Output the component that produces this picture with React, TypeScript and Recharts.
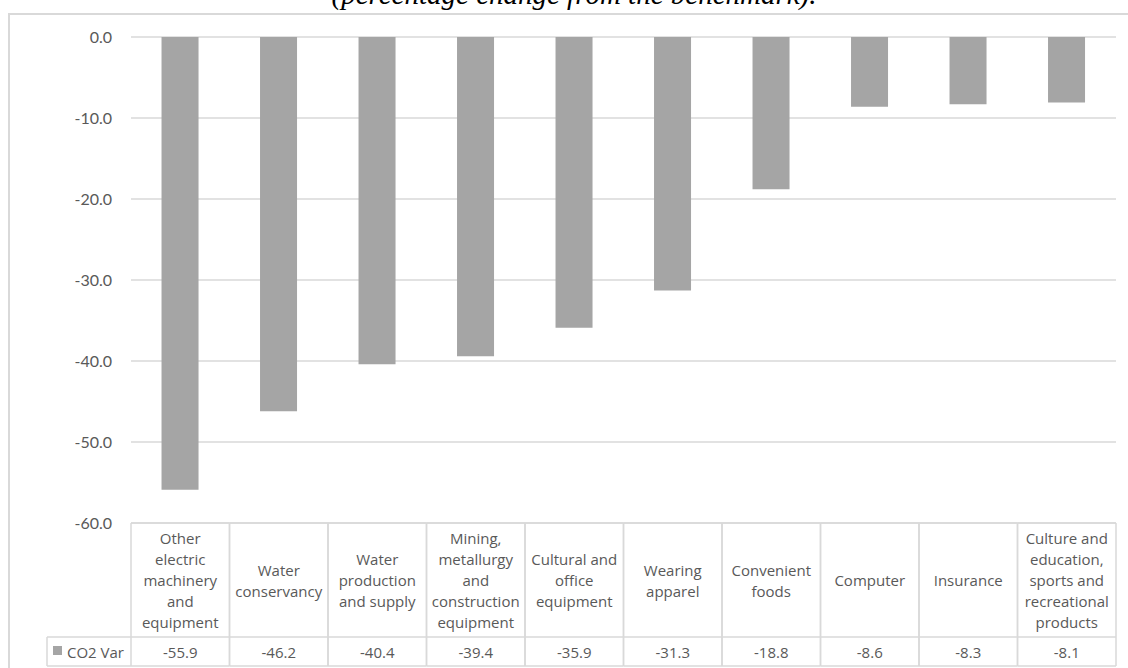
import React from 'react';
import { BarChart, Bar, XAxis, YAxis, CartesianGrid } from 'recharts';

// 各部門 CO2 變化（相對基準的百分比）
const categoryLines: string[][] = [
  ['Other', 'electric', 'machinery', 'and', 'equipment'],
  ['Water', 'conservancy'],
  ['Water', 'production', 'and supply'],
  ['Mining,', 'metallurgy', 'and', 'construction', 'equipment'],
  ['Cultural and', 'office', 'equipment'],
  ['Wearing', 'apparel'],
  ['Convenient', 'foods'],
  ['Computer'],
  ['Insurance'],
  ['Culture and', 'education,', 'sports and', 'recreational', 'products'],
];
const co2Var = [-55.9, -46.2, -40.4, -39.4, -35.9, -31.3, -18.8, -8.6, -8.3, -8.1];
const yTicks = [0, -10, -20, -30, -40, -50, -60];
const seriesName = 'CO2 Var';

const data = co2Var.map((v, i) => ({ name: categoryLines[i].join(' '), value: v, idx: i }));

const WIDTH = 1128;
const HEIGHT = 668;
const MARGIN = { top: 37, right: 12, bottom: 0, left: 71 };
const Y_AXIS_W = 60;
const TABLE_H = 145;
const HEADER_H = 114;
const PLOT_W = WIDTH - MARGIN.left - Y_AXIS_W - MARGIN.right;
const BAND = PLOT_W / data.length;

const gridColor = '#d9d9d9';
const textColor = '#595959';
const barColor = '#a5a5a5';
const tableFont = '"Open Sans", "Noto Sans", sans-serif';

// 資料表欄位（X 軸刻度）
const TableColumn = (props: any) => {
  const { x, y, index } = props;
  const lines = categoryLines[index];
  const left = x - BAND / 2;
  const right = x + BAND / 2;
  const lineH = 21;
  const midY = y + 57;
  const firstY = midY - ((lines.length - 1) * lineH) / 2;
  const bottom = y + TABLE_H - 2;
  return (
    <g>
      <line x1={left} y1={y} x2={right} y2={y} stroke={gridColor} strokeWidth={1.5} />
      <line x1={left} y1={y + HEADER_H} x2={right} y2={y + HEADER_H} stroke={gridColor} strokeWidth={1.5} />
      <line x1={left} y1={bottom} x2={right} y2={bottom} stroke={gridColor} strokeWidth={1.5} />
      <line x1={left} y1={y} x2={left} y2={bottom} stroke={gridColor} strokeWidth={1.5} />
      <line x1={right} y1={y} x2={right} y2={bottom} stroke={gridColor} strokeWidth={1.5} />
      {lines.map((t, i) => (
        <text
          key={i}
          x={x}
          y={firstY + i * lineH}
          textAnchor="middle"
          dominantBaseline="central"
          fill={textColor}
          fontSize={15}
          fontFamily={tableFont}
        >
          {t}
        </text>
      ))}
      <text
        x={x}
        y={y + HEADER_H + 14.5}
        textAnchor="middle"
        dominantBaseline="central"
        fill={textColor}
        fontSize={15}
        fontFamily={tableFont}
      >
        {co2Var[index].toFixed(1)}
      </text>
      {index === 0 && (
        <g>
          <line x1={left - 84} y1={y + HEADER_H} x2={left} y2={y + HEADER_H} stroke={gridColor} strokeWidth={1.5} />
          <line x1={left - 84} y1={bottom} x2={left} y2={bottom} stroke={gridColor} strokeWidth={1.5} />
          <line x1={left - 84} y1={y + HEADER_H} x2={left - 84} y2={bottom} stroke={gridColor} strokeWidth={1.5} />
          <rect x={left - 78} y={y + HEADER_H + 9} width={9} height={9} fill={barColor} />
          <text
            x={left - 64}
            y={y + HEADER_H + 14.5}
            dominantBaseline="central"
            fill={textColor}
            fontSize={15}
            fontFamily={tableFont}
          >
            {seriesName}
          </text>
        </g>
      )}
    </g>
  );
};

export default function App() {
  return (
    <div style={{ position: 'absolute', left: 0, top: 0, width: WIDTH, height: HEIGHT, overflow: 'hidden', background: '#fff' }}>
      {/* 外框 */}
      <div
        style={{
          position: 'absolute',
          left: 8,
          top: 13,
          width: WIDTH,
          height: HEIGHT,
          border: `2px solid ${gridColor}`,
          boxSizing: 'border-box',
        }}
      />
      {/* 標題（上半部被裁切） */}
      <div
        style={{
          position: 'absolute',
          left: 0,
          width: 1148,
          top: -26,
          textAlign: 'center',
          fontFamily: '"Liberation Serif", "DejaVu Serif", serif',
          fontStyle: 'italic',
          fontSize: 29,
          lineHeight: '40px',
          color: '#000',
          whiteSpace: 'nowrap',
        }}
      >
        (percentage change from the benchmark).
      </div>
      <div style={{ position: 'absolute', left: 0, top: 0 }}>
        <BarChart width={WIDTH} height={HEIGHT} data={data} margin={MARGIN} barCategoryGap="31%">
          <CartesianGrid vertical={false} stroke={gridColor} strokeWidth={1.5} />
          <XAxis
            dataKey="name"
            height={TABLE_H}
            axisLine={false}
            tickLine={false}
            tickSize={0}
            tickMargin={0}
            interval={0}
            tick={<TableColumn />}
          />
          <YAxis
            width={Y_AXIS_W}
            domain={[-60, 0]}
            ticks={yTicks}
            axisLine={false}
            tickLine={false}
            tickSize={0}
            tickMargin={19}
            tickFormatter={(v: number) => v.toFixed(1)}
            tick={{ fill: textColor, fontSize: 16, fontFamily: 'Lato, "Open Sans", sans-serif' }}
          />
          <Bar dataKey="value" fill={barColor} isAnimationActive={false} />
        </BarChart>
      </div>
    </div>
  );
}
